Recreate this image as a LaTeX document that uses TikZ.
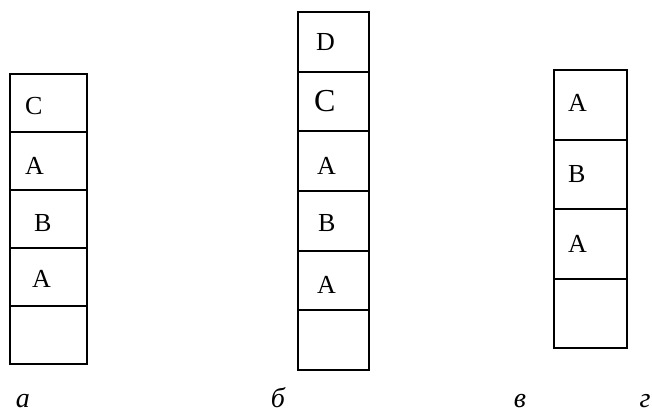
\documentclass[tikz,border=0pt]{standalone}
\usepackage{fontspec}
\setmainfont{Liberation Serif}
\usetikzlibrary{positioning}

\begin{document}
\begin{tikzpicture}[x=1pt,y=-1pt,
			cell node/.style={
				rectangle, draw=black, line width=2pt,
				inner sep=0pt, outer sep=0pt},
			a cell/.style={cell node, minimum width=77pt, minimum height=58pt},
			b cell/.style={cell node, minimum width=71pt, minimum height=59.67pt},
			c cell/.style={cell node, minimum width=73pt, minimum height=69.5pt},
			letter node/.style={
				inner sep=0pt, outer sep=0pt,
				font=\fontsize{26}{30}\selectfont},
			caption node/.style={
				inner sep=0pt, anchor=base,
				font=\fontsize{28}{32}\selectfont\itshape}
			]
			\useasboundingbox (0,0) rectangle (652,412);
			% stack a
			\node[a cell,anchor=north] (a1) at (48.5,74) {};
			\node[a cell,below=0pt of a1] (a2) {};
			\node[a cell,below=0pt of a2] (a3) {};
			\node[a cell,below=0pt of a3] (a4) {};
			\node[a cell,below=0pt of a4] (a5) {};
			\node[letter node,right=15pt of a1.west,yshift=-3pt] (la1) {C};
			\node[letter node,right=15pt of a2.west,yshift=-5pt] (la2) {A};
			\node[letter node,right=24pt of a3.west,yshift=-4pt] (la3) {B};
			\node[letter node,right=22pt of a4.west,yshift=-2pt] (la4) {A};
			% stack b
			\node[b cell,anchor=north] (b1) at (333.5,12) {};
			\node[b cell,below=0pt of b1] (b2) {};
			\node[b cell,below=0pt of b2] (b3) {};
			\node[b cell,below=0pt of b3] (b4) {};
			\node[b cell,below=0pt of b4] (b5) {};
			\node[b cell,below=0pt of b5] (b6) {};
			\node[letter node,right=18pt of b1.west] (lb1) {D};
			\node[letter node,right=16pt of b2.west,font=\fontsize{32}{36}\selectfont] (lb2) {C};
			\node[letter node,right=19pt of b3.west,yshift=-5pt] (lb3) {A};
			\node[letter node,right=20pt of b4.west,yshift=-2pt] (lb4) {B};
			\node[letter node,right=19pt of b5.west,yshift=-4pt] (lb5) {A};
			% stack c
			\node[c cell,anchor=north] (c1) at (590.5,70) {};
			\node[c cell,below=0pt of c1] (c2) {};
			\node[c cell,below=0pt of c2] (c3) {};
			\node[c cell,below=0pt of c3] (c4) {};
			\node[letter node,right=14pt of c1.west,yshift=2pt] (lc1) {A};
			\node[letter node,right=14pt of c2.west] (lc2) {B};
			\node[letter node,right=14pt of c3.west] (lc3) {A};
			% captions
			\node[caption node] (ca) at (23,407) {а};
			\node[caption node] (cb) at (278,407) {б};
			\node[caption node] (cc) at (520,407) {в};
			\node[caption node] (cd) at (645,407) {г};
		\end{tikzpicture}
\end{document}
